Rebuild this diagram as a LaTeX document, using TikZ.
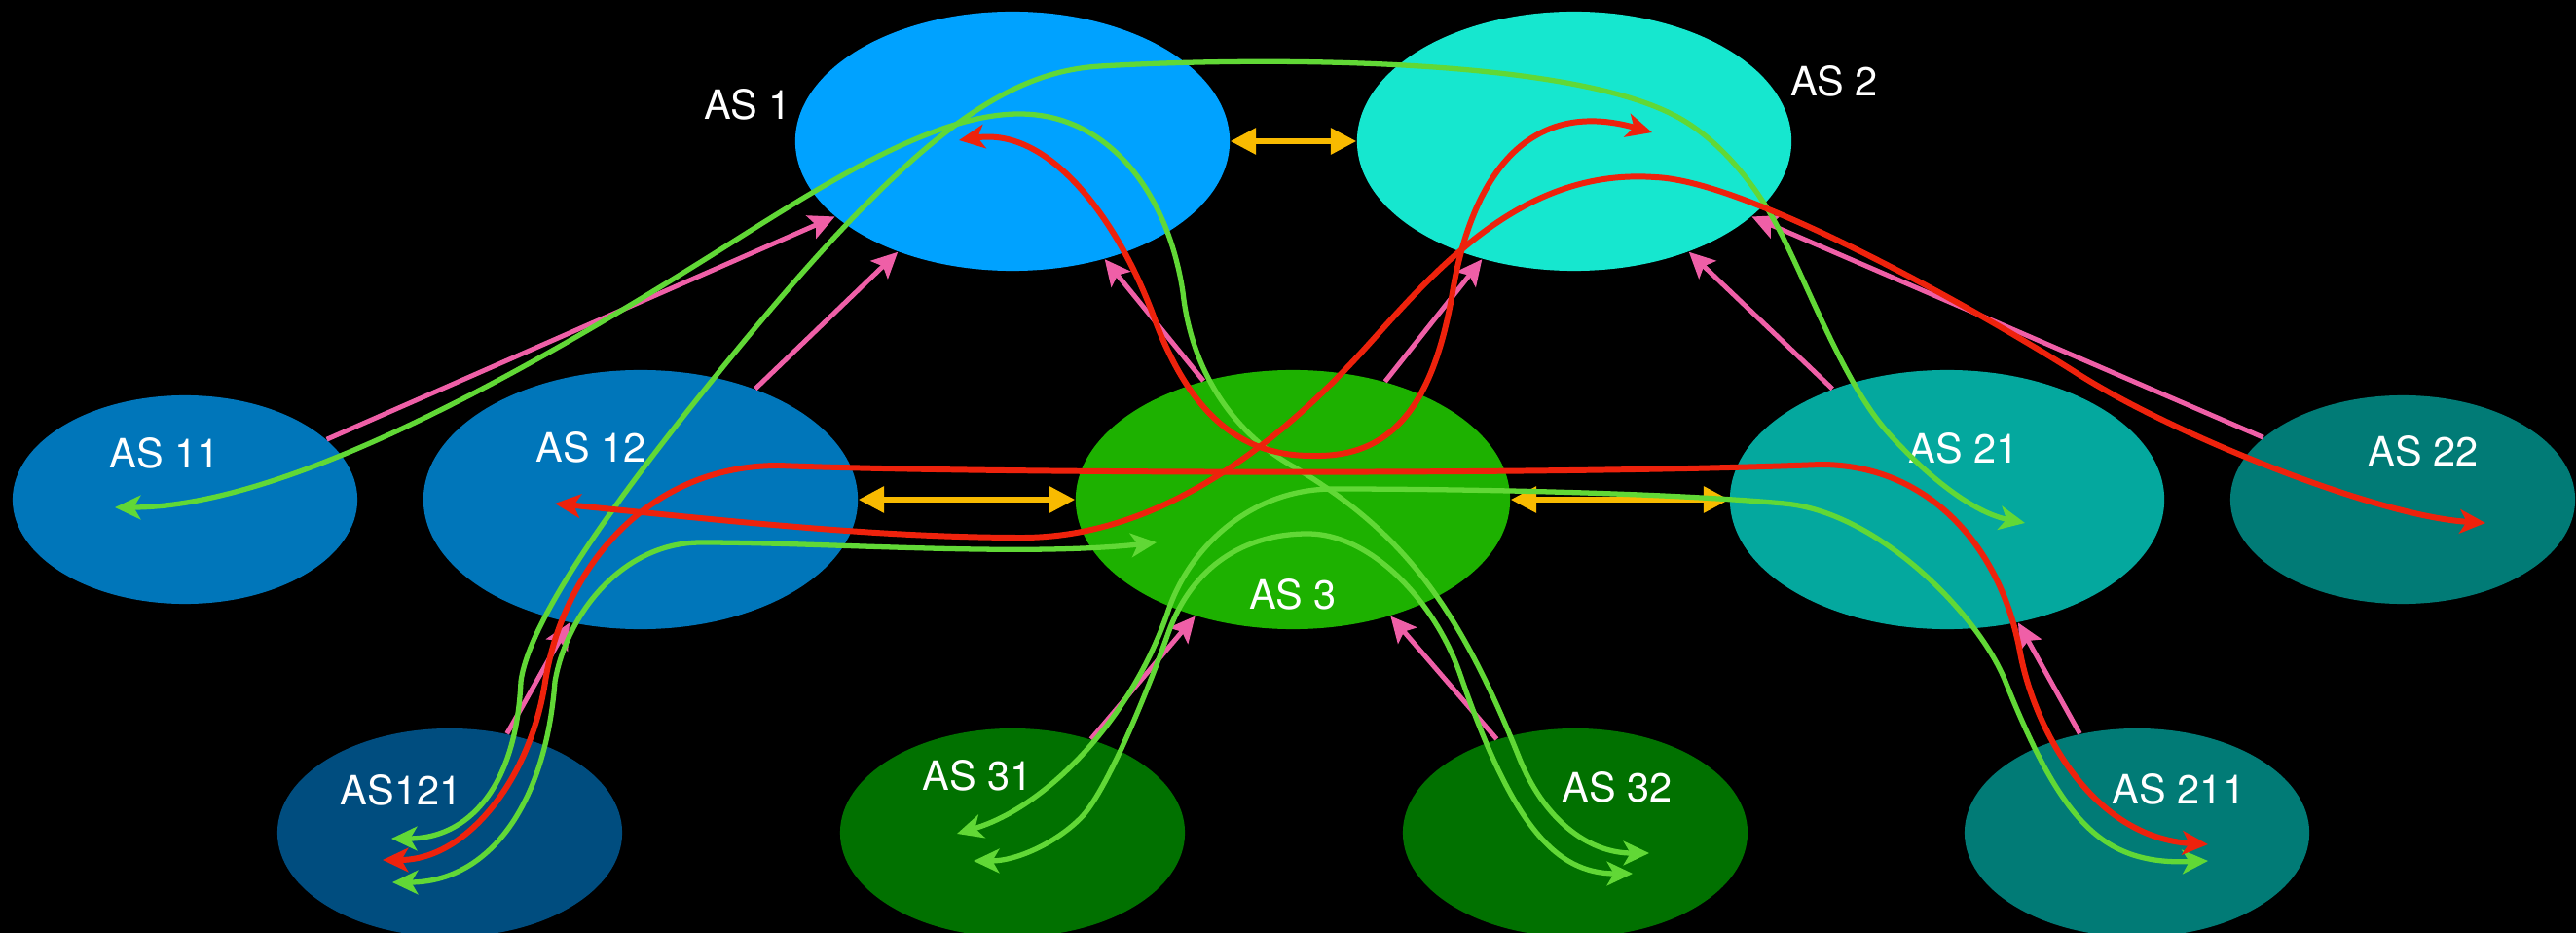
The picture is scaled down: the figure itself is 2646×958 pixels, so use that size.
\documentclass[tikz,border=0pt]{standalone}
\usepackage{fontspec}
\setmainfont{TeX Gyre Heros}
\usepackage{xcolor}
\usepackage{tikz}
\usetikzlibrary{shapes.geometric,arrows.meta}
\definecolor{sky}{HTML}{00A2FF}
\definecolor{aqua}{HTML}{16E7CF}
\definecolor{ocean}{HTML}{0076BA}
\definecolor{deep}{HTML}{004D7F}
\definecolor{grass}{HTML}{1DB100}
\definecolor{forest}{HTML}{017100}
\definecolor{lagoon}{HTML}{04A89E}
\definecolor{pine}{HTML}{017B76}
\definecolor{peer}{HTML}{F8BA00}
\definecolor{cust}{HTML}{EF5FA7}
\definecolor{pathred}{HTML}{EE220C}
\definecolor{pathgreen}{HTML}{61D836}
\tikzset{
  as/.style={ellipse, inner sep=0pt},
  big/.style={as, minimum width=4.46cm, minimum height=2.66cm},
  small/.style={as, minimum width=3.54cm, minimum height=2.14cm},
  lab/.style={text=white, inner sep=0pt, font=\fontsize{11.8}{14}\selectfont},
  peering/.style={draw=peer, line width=1.5pt, {Triangle[length=7.5pt,width=7.5pt]}-{Triangle[length=7.5pt,width=7.5pt]}},
  transit/.style={draw=cust, line width=1.4pt, -{Stealth[length=7.5pt,width=7.2pt,inset=1.5pt]}},
  redroute/.style={draw=pathred, line width=1.7pt, line cap=round, {Stealth[length=7.5pt,width=7pt,inset=2pt]}-{Stealth[length=7.5pt,width=7pt,inset=2pt]}},
  greenroute/.style={draw=pathgreen, line width=1.5pt, line cap=round, {Stealth[length=7.5pt,width=7pt,inset=2pt]}-{Stealth[length=7.5pt,width=7pt,inset=2pt]}},
}
\begin{document}
\begin{tikzpicture}[x=0.01cm, y=-0.01cm]
  \useasboundingbox (0,0) rectangle (2646,958);
  \fill[black] (0,0) rectangle (2646,958);
  % tier 1
  \node[big, fill=sky] (as1) at (1040,145) {};
  \node[big, fill=aqua] (as2) at (1617,145) {};
  % tier 2
  \node[small, fill=ocean] (as11) at (190,513) {};
  \node[big, fill=ocean] (as12) at (658,513) {};
  \node[big, fill=grass] (as3) at (1328,513) {};
  \node[big, fill=lagoon] (as21) at (2000,513) {};
  \node[small, fill=pine] (as22) at (2468,513) {};
  % tier 3
  \node[small, fill=deep] (as121) at (462,855) {};
  \node[small, fill=forest] (as31) at (1040,855) {};
  \node[small, fill=forest] (as32) at (1618,855) {};
  \node[small, fill=pine] (as211) at (2195,855) {};

  \node[lab] (as1t) at (768,107) {AS 1};
  \node[lab] (as2t) at (1884,83) {AS 2};
  \node[lab] (as11t) at (169,465) {AS 11};
  \node[lab] (as12t) at (607,459) {AS 12};
  \node[lab] (as3t) at (1328,610) {AS 3};
  \node[lab] (as21t) at (2017,460) {AS 21};
  \node[lab] (as22t) at (2489,463) {AS 22};
  \node[lab] (as121t) at (412,811) {AS121};
  \node[lab] (as31t) at (1004,796) {AS 31};
  \node[lab] (as32t) at (1661,808) {AS 32};
  \node[lab] (as211t) at (2238,810) {AS 211};

  % peers
  \draw[peering] (as1.east) -- (as2.west);
  \draw[peering] (as12.east) -- (as3.west);
  \draw[peering] (as3.east) -- (as21.west);

  % customer -> provider
  \draw[transit] (as11.23) -- (as1.203);
  \draw[transit] (as12.44) -- (as1.224);
  \draw[transit] (as3.127) -- (as1.308);
  \draw[transit] (as3.52) -- (as2.232);
  \draw[transit] (as21.136) -- (as2.316);
  \draw[transit] (as22.156) -- (as2.337);
  \draw[transit] (as121.60) -- (as12.240);
  \draw[transit] (as31.50) -- (as3.230);
  \draw[transit] (as32.130) -- (as3.310);
  \draw[transit] (as211.120) -- (as21.300);

  % route ends
  \coordinate (ga1) at (118,521);  \coordinate (ga2) at (1694,876);
  \coordinate (gb1) at (402,861);  \coordinate (gb2) at (2080,537);
  \coordinate (gc1) at (403,906);  \coordinate (gc2) at (1188,557);
  \coordinate (gd1) at (983,856);  \coordinate (gd2) at (2268,884);
  \coordinate (ge1) at (1000,884); \coordinate (ge2) at (1677,897);
  \coordinate (ra1) at (985,144);  \coordinate (ra2) at (1697,136);
  \coordinate (rb1) at (570,517);  \coordinate (rb2) at (2553,537);
  \coordinate (rc1) at (393,883);  \coordinate (rc2) at (2268,867);

  % green routes
  \draw[greenroute] (ga1) .. controls (300,521) and (560,370) .. (750,250)
    .. controls (850,187) and (960,117) .. (1047,117)
    .. controls (1140,117) and (1200,200) .. (1215,300)
    .. controls (1225,390) and (1275,450) .. (1330,480)
    .. controls (1440,546) and (1497,620) .. (1560,777)
    .. controls (1585,840) and (1630,876) .. (ga2);
  \draw[greenroute] (gb1) .. controls (480,861) and (530,810) .. (535,700)
    .. controls (545,620) and (690,442) .. (740,380)
    .. controls (930,146) and (1028,74) .. (1130,68)
    .. controls (1280,59) and (1597,57) .. (1717,117)
    .. controls (1760,138) and (1795,180) .. (1817,217)
    .. controls (1850,272) and (1890,390) .. (1940,445)
    .. controls (1985,495) and (2030,527) .. (gb2);
  \draw[greenroute] (gc1) .. controls (500,906) and (560,830) .. (570,700)
    .. controls (582,630) and (640,557) .. (720,557)
    .. controls (850,557) and (1050,572) .. (gc2);
  \draw[greenroute] (gd1) .. controls (1077,828) and (1163,736) .. (1200,627)
    .. controls (1220,567) and (1280,502) .. (1370,502)
    .. controls (1480,502) and (1700,505) .. (1833,517)
    .. controls (1930,526) and (2033,632) .. (2060,700)
    .. controls (2119,847) and (2161,888) .. (gd2);
  \draw[greenroute] (ge1) .. controls (1045,884) and (1085,865) .. (1110,840)
    .. controls (1135,815) and (1175,720) .. (1200,650)
    .. controls (1225,580) and (1280,548) .. (1343,548)
    .. controls (1410,548) and (1475,620) .. (1500,693)
    .. controls (1553,846) and (1597,897) .. (ge2);

  % red routes
  \draw[redroute] (ra1) .. controls (1080,130) and (1150,230) .. (1185,325)
    .. controls (1220,420) and (1270,468) .. (1347,468)
    .. controls (1420,470) and (1470,430) .. (1492,300)
    .. controls (1512,180) and (1570,100) .. (ra2);
  \draw[redroute] (rb1) .. controls (750,535) and (900,552) .. (1050,552)
    .. controls (1180,552) and (1300,470) .. (1400,360)
    .. controls (1470,283) and (1560,172) .. (1700,182)
    .. controls (1800,186) and (2050,330) .. (2133,383)
    .. controls (2230,445) and (2440,530) .. (rb2);
  \draw[redroute] (rc1) .. controls (480,883) and (545,799) .. (560,700)
    .. controls (577,590) and (660,478) .. (800,478)
    .. controls (1000,486) and (1600,488) .. (1870,477)
    .. controls (1980,477) and (2055,560) .. (2075,670)
    .. controls (2090,750) and (2150,860) .. (rc2);
\end{tikzpicture}
\end{document}
